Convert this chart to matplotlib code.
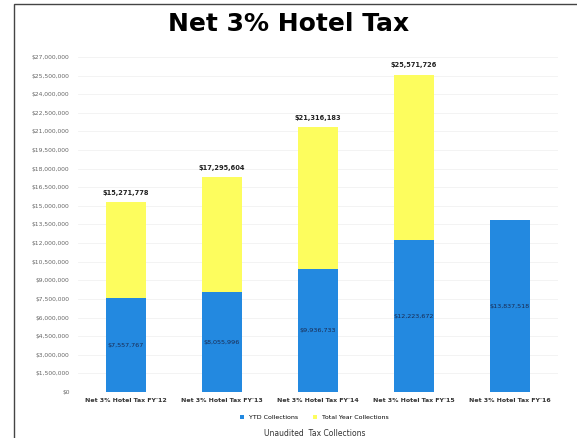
import matplotlib
matplotlib.use('Agg')
import matplotlib.pyplot as plt
from matplotlib.patches import Rectangle
from matplotlib.ticker import FuncFormatter, MultipleLocator

categories = ["Net 3% Hotel Tax FY'12", "Net 3% Hotel Tax FY'13", "Net 3% Hotel Tax FY'14",
              "Net 3% Hotel Tax FY'15", "Net 3% Hotel Tax FY'16"]
ytd = [7557767, 8055996, 9936733, 12223672, 13837518]
total_year = [15271778, 17295604, 21316183, 25571726, 0]

blue = '#2389e0'
yellow = '#fdfd5e'

fig = plt.figure(figsize=(5.77, 4.38), dpi=100)
ax = fig.add_axes([0.135, 0.105, 0.832, 0.765])

x = range(len(categories))
ax.bar(x, total_year, width=0.42, color=yellow, label='Total Year Collections', zorder=2)
ax.bar(x, ytd, width=0.42, color=blue, label='YTD Collections', zorder=3)

for i in x:
    if total_year[i]:
        ax.text(i, total_year[i] + 500000, f"${total_year[i]:,}", ha='center', va='bottom',
                fontsize=4.8, fontweight='bold', color='#222222')
    ax.text(i, ytd[i] / 2, f"${ytd[i]:,}", ha='center', va='center',
            fontsize=4.6, color='#1a2a50', zorder=4)

ax.set_ylim(0, 27000000)
ax.set_xlim(-0.5, 4.5)
ax.yaxis.set_major_locator(MultipleLocator(1500000))
ax.yaxis.set_major_formatter(FuncFormatter(lambda v, p: f"${v:,.0f}"))
ax.tick_params(axis='y', labelsize=4.3, labelcolor='#666666', length=0, pad=6)
ax.set_xticks(list(x))
ax.set_xticklabels(categories, fontsize=4.5, fontweight='bold', color='#333333')
ax.tick_params(axis='x', length=0, pad=4)
ax.grid(axis='y', color='#eeeeee', linewidth=0.5, zorder=0)
for s in ax.spines.values():
    s.set_visible(False)

handles, labels = ax.get_legend_handles_labels()
fig.legend(handles[::-1], labels[::-1], loc='center', bbox_to_anchor=(0.545, 0.047), ncol=2,
           frameon=False, fontsize=4.5, handlelength=0.6, handleheight=0.6, columnspacing=2.5)

fig.text(0.5, 0.945, "Net 3% Hotel Tax", ha='center', va='center', fontsize=18, fontweight='bold')
fig.text(0.545, 0.01, "Unaudited  Tax Collections", ha='center', va='center', fontsize=5.5,
         color='#333333')

fig.patches.append(Rectangle((0.025, -0.05), 1.0, 1.04, transform=fig.transFigure,
                             fill=False, edgecolor='#444444', linewidth=1.0))

fig.savefig('out.png', dpi=100)
